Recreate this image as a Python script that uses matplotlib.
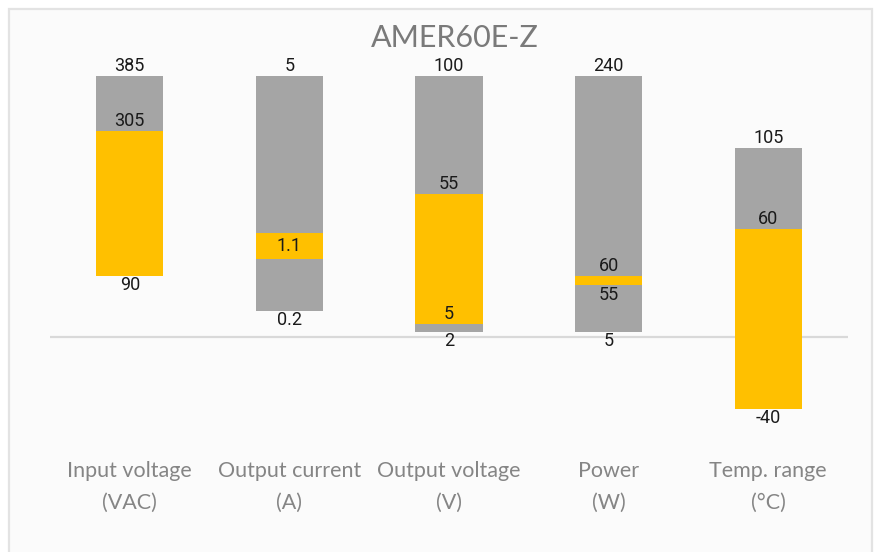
import matplotlib.pyplot as plt
import matplotlib.patches as patches
import numpy as np

categories = ['Input voltage\n(VAC)', 'Output current\n(A)', 'Output voltage\n(V)',
              'Power\n(W)', 'Temp. range\n(°C)']

# bar extents in chart units (each spec scaled so its max sits near 100)
gray_low = [23.4, 10.0, 1.9, 1.9, -27.6]
gray_high = [100, 100, 100, 100, 72.4]
orange_low = [23.4, 29.8, 4.9, 19.8, -27.6]
orange_high = [78.9, 39.8, 54.7, 23.3, 41.3]

# data labels: (category index, anchor edge, side, text)
labels = [
    (0, 'gh', 1, '385'), (0, 'oh', 1, '305'), (0, 'ol', -1, '90'),
    (1, 'gh', 1, '5'), (1, 'oc', 0, '1.1'), (1, 'gl', -1, '0.2'),
    (2, 'gh', 1, '100'), (2, 'oh', 1, '55'), (2, 'ol', 1, '5'), (2, 'gl', -1, '2'),
    (3, 'gh', 1, '240'), (3, 'oh', 1, '60'), (3, 'ol', -1, '55'), (3, 'gl', -1, '5'),
    (4, 'gh', 1, '105'), (4, 'oh', 1, '60'), (4, 'ol', -1, '-40'),
]

W, H = 875, 552
fig = plt.figure(figsize=(W / 100, H / 100), dpi=100)
fig.patch.set_facecolor('white')

# chart area frame
frame = patches.Rectangle((9 / W, -0.05), (872 - 9) / W, 1.05 - 9 / H,
                          transform=fig.transFigure, facecolor='#fbfbfb',
                          edgecolor='#e3e3e3', linewidth=1.6, zorder=-10)
fig.patches.append(frame)

ax_l, ax_r, ax_t, ax_b = 50, 848, 60, 455
ax = fig.add_axes([ax_l / W, 1 - ax_b / H, (ax_r - ax_l) / W, (ax_b - ax_t) / H])
ax.set_facecolor('none')
ax.set_zorder(1)

unit = (336.7 - 76) / 100
ax.set_ylim(-(ax_b - 336.7) / unit, (336.7 - ax_t) / unit)
ax.set_xlim(-0.5, len(categories) - 0.5)

x = np.arange(len(categories))
width = 0.42

ax.axhline(0, color='#d9d9d9', linewidth=1.6, zorder=1)

gl = np.array(gray_low)
gh = np.array(gray_high)
ol = np.array(orange_low)
oh = np.array(orange_high)
ax.bar(x, gh - gl, width, bottom=gl, color='#a5a5a5', zorder=2)
ax.bar(x, oh - ol, width, bottom=ol, color='#ffc000', zorder=3)

edges = {'gh': gh, 'gl': gl, 'oh': oh, 'ol': ol, 'oc': (oh + ol) / 2}
for i, edge, side, text in labels:
    ax.annotate(text, (x[i], edges[edge][i]), xytext=(0, 7 * side),
                textcoords='offset points', ha='center', va='center',
                fontsize=13, family='Roboto', color='#1a1a1a', zorder=5)

ax.set_xticks(x)
ax.set_xticklabels(categories, fontsize=15.5, family='Lato', color='#858585',
                   linespacing=1.8)
ax.tick_params(axis='x', length=0, pad=4)
ax.set_yticks([])
for s in ax.spines.values():
    s.set_visible(False)

fig.text(454.5 / W, 1 - 46.7 / H, 'AMER60E-Z', ha='center', va='baseline',
         fontsize=22, family='Lato', color='#7a7a7a')

fig.savefig('out.png', dpi=100)
